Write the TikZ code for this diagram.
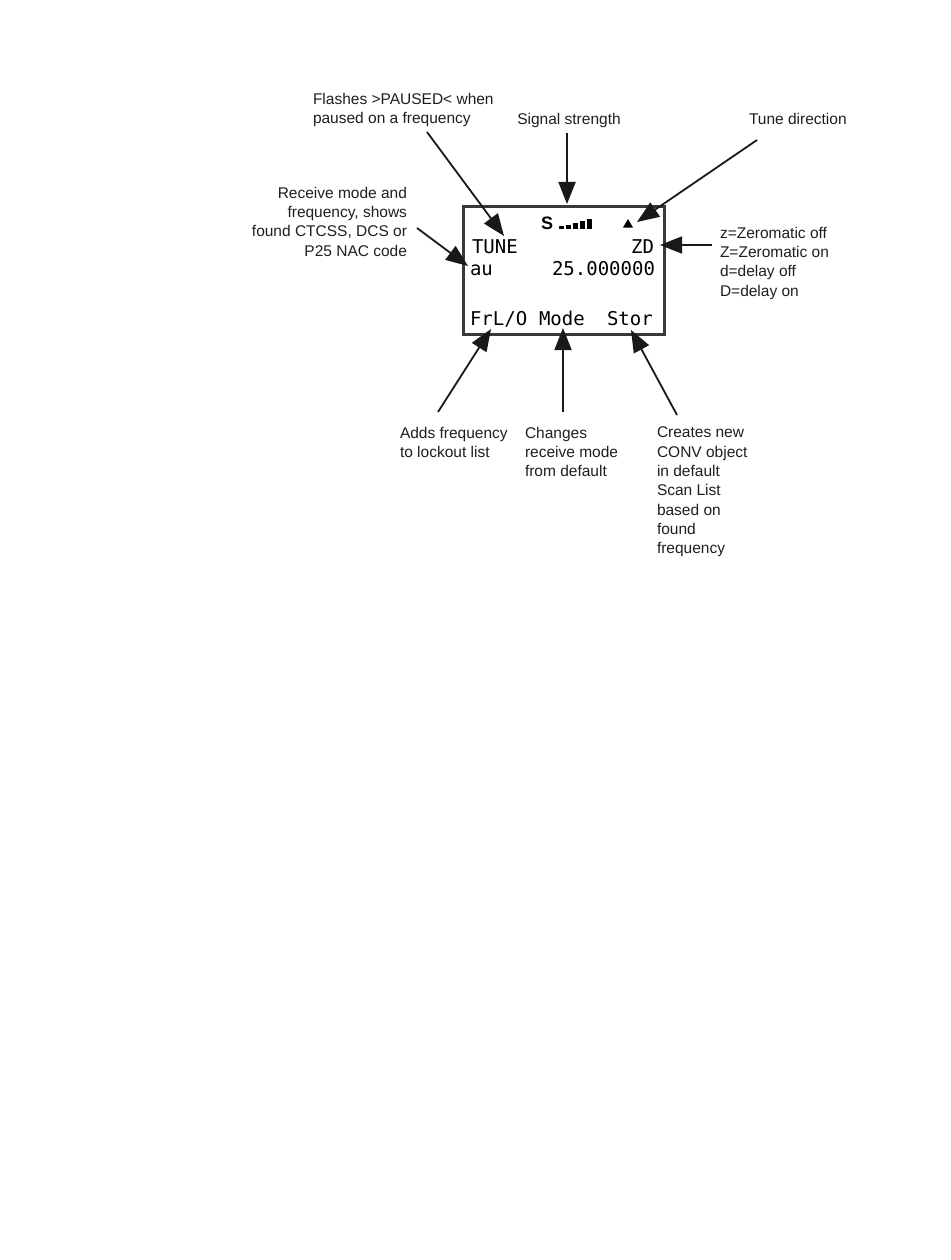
\documentclass[tikz,border=0pt]{standalone}
\usepackage{fontspec}
\setmainfont{Liberation Sans}
\newfontfamily\lcdfont{DejaVu Sans Mono}
\usetikzlibrary{arrows.meta}
\begin{document}
\begin{tikzpicture}[x=1pt,y=-1pt,
  lbl/.style={inner sep=0pt,outer sep=0pt,text=black!88,font=\fontsize{15.5}{19.3}\selectfont},
  lcd/.style={inner sep=0pt,outer sep=0pt,text=black,font=\lcdfont\fontsize{19}{22}\selectfont},
  arr/.style={line width=1.8pt,draw=black!90,-{Triangle[length=22pt,width=17pt]}},
  lcdbox/.style={draw=black!78,line width=2.6pt}]
\useasboundingbox[fill=white] (0,0) rectangle (950,1260);

% display box
\node[lcdbox,minimum width=201pt,minimum height=128pt,inner sep=0pt,anchor=north west] (box) at (462,205) {};

% display contents
\node[lcd,anchor=base west] (tune) at (472,253) {TUNE};
\node[lcd,anchor=base east] (zd) at (654,253) {ZD};
\node[lcd,anchor=base west] (au) at (470,275) {au};
\node[lcd,anchor=base east] (freq) at (655,275) {25.000000};
\node[lcd,anchor=base west] (frl) at (470,325) {FrL/O};
\node[lcd,anchor=base west] (mode) at (539,325) {Mode};
\node[lcd,anchor=base west] (stor) at (607,325) {Stor};
\node[inner sep=0pt,anchor=base west,font=\bfseries\fontsize{18}{20}\selectfont] (sig) at (541,229) {S};
\foreach \i/\h in {0/3,1/4,2/6,3/8,4/10}{
  \fill (559+7*\i,229) rectangle ++(4.5,-\h);
}
\fill (623,227.5) -- (633,227.5) -- (628,219) -- cycle;

% labels
\node[lbl,align=left,anchor=north west] (flashes) at (313,93) {Flashes >PAUSED< when\\paused on a frequency};
\node[lbl,anchor=base] (signal) at (569,125) {Signal strength};
\node[lbl,anchor=base west] (tunedir) at (749,125) {Tune direction};
\node[lbl,align=right,anchor=north east] (recv) at (407,187) {Receive mode and\\frequency, shows\\found CTCSS, DCS or\\P25 NAC code};
\node[lbl,align=left,anchor=north west] (zero) at (720,227) {z=Zeromatic off\\Z=Zeromatic on\\d=delay off\\D=delay on};
\node[lbl,align=left,anchor=north west] (adds) at (400,427) {Adds frequency\\to lockout list};
\node[lbl,align=left,anchor=north west] (changes) at (525,427) {Changes\\receive mode\\from default};
\node[lbl,align=left,anchor=north west] (creates) at (657,427) {Creates new\\CONV object\\in default\\Scan List\\based on\\found\\frequency};

% connector end points
\coordinate (flashesA) at (427,132);
\coordinate (flashesB) at (504,236);
\coordinate (signalA) at (567,133);
\coordinate (signalB) at (567,204);
\coordinate (tuneA) at (757,140);
\coordinate (tuneB) at (637,222);
\coordinate (zeroA) at (712,245);
\coordinate (zeroB) at (660,245);
\coordinate (recvA) at (417,228);
\coordinate (recvB) at (468,266);
\coordinate (addsA) at (438,412);
\coordinate (addsB) at (491,329);
\coordinate (changesA) at (563,412);
\coordinate (changesB) at (563,328);
\coordinate (createsA) at (677,415);
\coordinate (createsB) at (631,330);

\draw[arr] (flashesA) -- (flashesB);
\draw[arr] (signalA) -- (signalB);
\draw[arr] (tuneA) -- (tuneB);
\draw[arr] (zeroA) -- (zeroB);
\draw[arr] (recvA) -- (recvB);
\draw[arr] (addsA) -- (addsB);
\draw[arr] (changesA) -- (changesB);
\draw[arr] (createsA) -- (createsB);
\end{tikzpicture}
\end{document}
